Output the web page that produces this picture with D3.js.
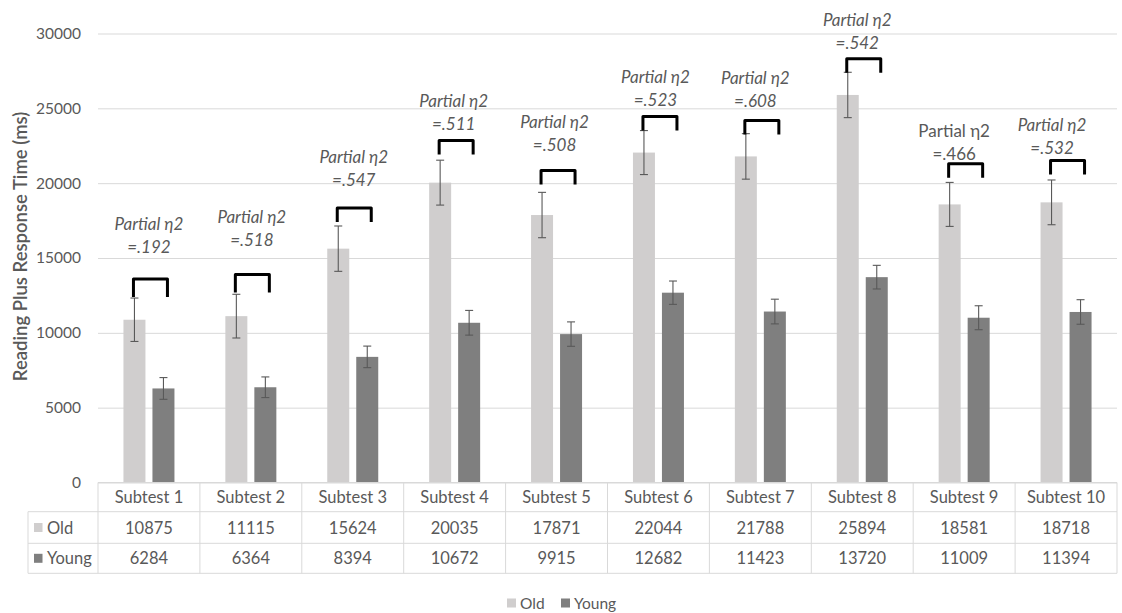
<!DOCTYPE html>
<html>
<head>
<meta charset="utf-8">
<script src="https://cdn.jsdelivr.net/npm/d3@7"></script>
<style>
  html, body { margin: 0; padding: 0; background: #fff; }
  svg { display: block; font-family: Lato, "Open Sans", sans-serif; }
</style>
</head>
<body>
<svg id="chart" width="1122" height="613"></svg>
<script>
// ---- data ----
const subtests = ['Subtest 1', 'Subtest 2', 'Subtest 3', 'Subtest 4', 'Subtest 5',
                  'Subtest 6', 'Subtest 7', 'Subtest 8', 'Subtest 9', 'Subtest 10'];
const groups = ['Old', 'Young'];
const oldMeans   = [10875, 11115, 15624, 20035, 17871, 22044, 21788, 25894, 18581, 18718];
const youngMeans = [6284, 6364, 8394, 10672, 9915, 12682, 11423, 13720, 11009, 11394];
const oldErr   = [1450, 1460, 1515, 1500, 1515, 1470, 1520, 1515, 1470, 1495];
const youngErr = [726, 690, 720, 826, 816, 780, 825, 790, 800, 820];
const etaValues = ['=.192', '=.518', '=.547', '=.511', '=.508', '=.523', '=.608', '=.542', '=.466', '=.532'];
const etaItalic = [true, true, true, true, true, true, true, true, false, true];
// value level of each significance bracket's top edge, and of each label's last baseline
const bracketLevels = [13692, 13993, 18448, 22956, 20950, 24562, 24294, 28415, 21391, 21619];
const labelLevels   = [15351, 15819, 19833, 23559, 22174, 25184, 25117, 28977, 21552, 21953];
const yTicks = [0, 5000, 10000, 15000, 20000, 25000, 30000];

// ---- layout ----
const labelNudge  = [0, 1, 1, -1, -2, -3, -5, -5, -10, -14];
const bracketDrop = [18, 18, 14, 14, 14, 14, 14, 14, 14, 14];
const colors = { Old: '#d0cece', Young: '#7f7f7f' };
const textColor = '#595959';
const gridColor = '#d9d9d9';
const plotLeft = 98, plotRight = 1117, tableLeft = 28;
const rowLines = [482.5, 511.7, 543.3, 573.3];
const tableFont = '16.5px';

const svg = d3.select('#chart');

const x0 = d3.scaleBand().domain(subtests).range([plotLeft, plotRight]).paddingInner(0).paddingOuter(0);
const x1 = d3.scaleBand().domain(groups).range([0, 51]).paddingInner(7 / 29).paddingOuter(0);
const y = d3.scaleLinear().domain([0, 30000]).range([482.5, 33.5]);
const groupLeft = s => x0(s) + x0.bandwidth() / 2 - 25.5;

// y axis (gridlines + tick labels)
const yAxis = d3.axisLeft(y).tickValues(yTicks).tickSize(-(plotRight - plotLeft)).tickPadding(17).tickFormat(d3.format('d'));
const gy = svg.append('g').attr('transform', `translate(${plotLeft},0)`).call(yAxis);
gy.select('.domain').remove();
gy.selectAll('.tick line').attr('stroke', gridColor).attr('stroke-width', 1);
gy.selectAll('.tick text').attr('fill', textColor).style('font-size', '15.5px').attr('font-family', 'Lato, sans-serif');

// y axis title
svg.append('text')
  .attr('transform', `translate(20,${246.5}) rotate(-90)`)
  .attr('text-anchor', 'middle').attr('dominant-baseline', 'central')
  .attr('fill', textColor).style('font-size', '18.5px').style('font-weight', 600)
  .text('Reading Plus Response Time (ms)');

// bars
const rows = subtests.map((s, i) => ({
  s, i,
  vals: [
    { g: 'Old', v: oldMeans[i], e: oldErr[i] },
    { g: 'Young', v: youngMeans[i], e: youngErr[i] }
  ]
}));

const cat = svg.append('g').selectAll('g').data(rows).join('g')
  .attr('transform', d => `translate(${groupLeft(d.s)},0)`);

cat.selectAll('rect').data(d => d.vals).join('rect')
  .attr('x', d => x1(d.g)).attr('width', x1.bandwidth())
  .attr('y', d => y(d.v)).attr('height', d => y(0) - y(d.v))
  .attr('fill', d => colors[d.g]);

// error bars
const eb = cat.selectAll('g.err').data(d => d.vals).join('g').attr('class', 'err')
  .attr('stroke', '#595959').attr('stroke-width', 1.1);
eb.append('line')
  .attr('x1', d => x1(d.g) + x1.bandwidth() / 2).attr('x2', d => x1(d.g) + x1.bandwidth() / 2)
  .attr('y1', d => y(d.v + d.e)).attr('y2', d => y(d.v - d.e));
eb.append('line')
  .attr('x1', d => x1(d.g) + x1.bandwidth() / 2 - 4).attr('x2', d => x1(d.g) + x1.bandwidth() / 2 + 4)
  .attr('y1', d => y(d.v + d.e)).attr('y2', d => y(d.v + d.e));
eb.append('line')
  .attr('x1', d => x1(d.g) + x1.bandwidth() / 2 - 4).attr('x2', d => x1(d.g) + x1.bandwidth() / 2 + 4)
  .attr('y1', d => y(d.v - d.e)).attr('y2', d => y(d.v - d.e));

// significance brackets
svg.append('g').selectAll('path').data(subtests).join('path')
  .attr('d', (s, i) => {
    const c = x0(s) + x0.bandwidth() / 2;
    const l = c - 15.5, r = c + 18.5, t = y(bracketLevels[i]) + 1.5, b = t + bracketDrop[i];
    return `M${l},${b}L${l},${t}L${r},${t}L${r},${b}`;
  })
  .attr('fill', 'none').attr('stroke', '#000').attr('stroke-width', 3).attr('stroke-linejoin', 'round');

// effect size labels
const lab = svg.append('g').selectAll('text').data(subtests).join('text')
  .attr('text-anchor', 'middle').attr('fill', textColor).style('font-size', '17px')
  .style('font-style', (s, i) => etaItalic[i] ? 'italic' : 'normal')
  .attr('transform', (s, i) => `translate(${x0(s) + x0.bandwidth() / 2 + labelNudge[i]},${y(labelLevels[i])})`);
lab.append('tspan').attr('x', 0).attr('y', -23).text('Partial η2');
lab.append('tspan').attr('x', 0).attr('y', 0).text((s, i) => etaValues[i]);

// data table
const tbl = svg.append('g').attr('stroke', gridColor).attr('stroke-width', 1);
tbl.append('line').attr('x1', plotLeft).attr('x2', plotRight).attr('y1', rowLines[0]).attr('y2', rowLines[0]);
rowLines.slice(1).forEach(yy => {
  tbl.append('line').attr('x1', tableLeft).attr('x2', plotRight).attr('y1', yy).attr('y2', yy);
});
tbl.append('line').attr('x1', tableLeft).attr('x2', tableLeft).attr('y1', rowLines[1]).attr('y2', rowLines[3]);
tbl.selectAll('line.v').data(subtests).join('line').attr('class', 'v')
  .attr('x1', s => x0(s)).attr('x2', s => x0(s)).attr('y1', rowLines[0]).attr('y2', rowLines[3]);
tbl.append('line').attr('x1', plotRight).attr('x2', plotRight).attr('y1', rowLines[0]).attr('y2', rowLines[3]);

const cellText = svg.append('g').attr('fill', textColor).style('font-size', tableFont)
  .attr('text-anchor', 'middle').attr('dominant-baseline', 'central');
cellText.selectAll('text.h').data(subtests).join('text').attr('class', 'h')
  .attr('x', s => x0(s) + x0.bandwidth() / 2).attr('y', (rowLines[0] + rowLines[1]) / 2).text(s => s);
cellText.selectAll('text.o').data(oldMeans).join('text').attr('class', 'o')
  .attr('x', (v, i) => x0(subtests[i]) + x0.bandwidth() / 2).attr('y', (rowLines[1] + rowLines[2]) / 2).text(v => v);
cellText.selectAll('text.yg').data(youngMeans).join('text').attr('class', 'yg')
  .attr('x', (v, i) => x0(subtests[i]) + x0.bandwidth() / 2).attr('y', (rowLines[2] + rowLines[3]) / 2).text(v => v);

// row headers with legend keys
groups.forEach((g, k) => {
  const cy = (rowLines[k + 1] + rowLines[k + 2]) / 2;
  svg.append('rect').attr('x', 34).attr('y', cy - 4.5).attr('width', 8.5).attr('height', 9).attr('fill', colors[g]);
  svg.append('text').attr('x', 47).attr('y', cy).attr('dominant-baseline', 'central')
    .attr('fill', textColor).style('font-size', tableFont).text(g);
});

// legend
const legendPos = [{ g: 'Old', x: 507 }, { g: 'Young', x: 561 }];
const lg = svg.append('g').selectAll('g').data(legendPos).join('g')
  .attr('transform', d => `translate(${d.x},603)`);
lg.append('rect').attr('x', 0).attr('y', -4.5).attr('width', 9).attr('height', 9).attr('fill', d => colors[d.g]);
lg.append('text').attr('x', 13).attr('y', 0).attr('dominant-baseline', 'central')
  .attr('fill', textColor).style('font-size', '15.5px').text(d => d.g);
</script>
</body>
</html>
